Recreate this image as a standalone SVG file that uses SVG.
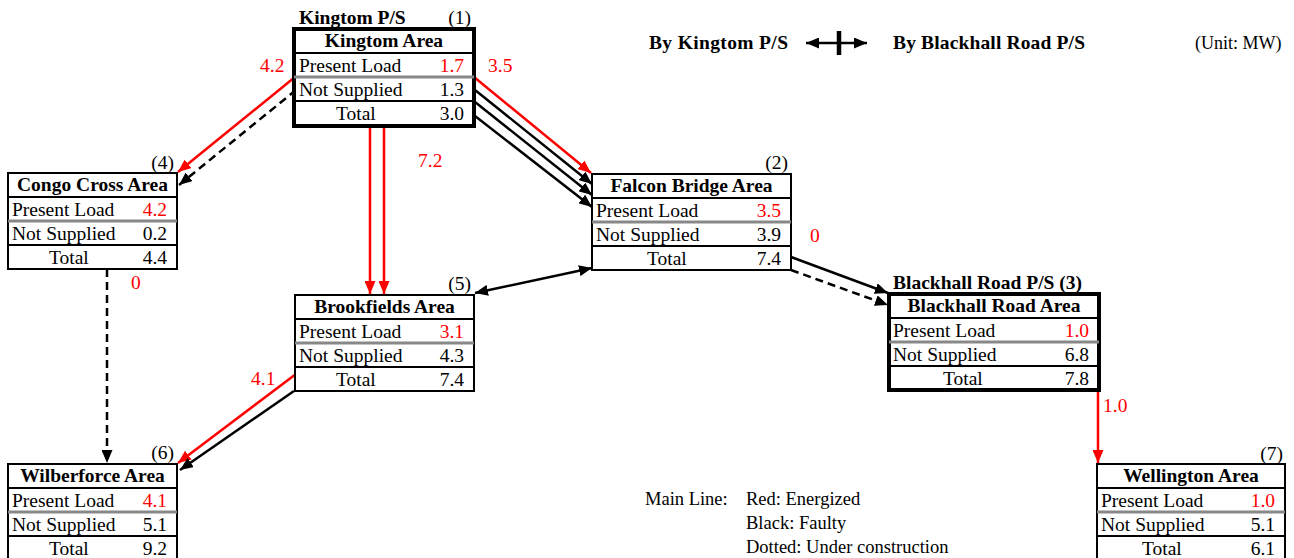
<svg xmlns="http://www.w3.org/2000/svg" width="1294" height="558" viewBox="0 0 1294 558" font-family="'Liberation Serif', 'Times New Roman', Times, serif">
<style>
text{font-family:'Liberation Serif','Times New Roman',Times,serif;font-size:19.5px;fill:#000}
.b{font-weight:bold}
.r{fill:#ff0000}
.e{text-anchor:end}
.m{text-anchor:middle}
.lg{font-size:18.5px}
.box{fill:#fff;stroke:#000;stroke-width:2}
.thick{stroke-width:4}
.dv{stroke:#000;stroke-width:2}
.gr{stroke:#888;stroke-width:3}
.ln{fill:none;stroke:#000;stroke-width:2.5}
.red{fill:none;stroke:#ff0000;stroke-width:2.5}
.dash{stroke-dasharray:8 5}
</style>
<defs>
<marker id="ak" viewBox="0 0 13 11" refX="13" refY="5.5" markerWidth="13" markerHeight="11" markerUnits="userSpaceOnUse" orient="auto-start-reverse"><path d="M0,0 L13,5.5 L0,11 z" fill="#000"/></marker>
<marker id="ar" viewBox="0 0 13 11" refX="13" refY="5.5" markerWidth="13" markerHeight="11" markerUnits="userSpaceOnUse" orient="auto"><path d="M0,0 L13,5.5 L0,11 z" fill="#ff0000"/></marker>
</defs>

<g id="connectors">
<path class="red" d="M295,77 L178,172" marker-end="url(#ar)"/>
<path class="ln dash" d="M296,90 L179,185" marker-end="url(#ak)"/>
<path class="red" d="M474,77 L591,173" marker-end="url(#ar)"/>
<path class="ln" d="M475,90 L592,184" marker-end="url(#ak)"/>
<path class="ln" d="M475,102 L592,195" marker-end="url(#ak)"/>
<path class="ln" d="M475,116 L592,207" marker-end="url(#ak)"/>
<path class="red" d="M370,127 L370,294" marker-end="url(#ar)"/>
<path class="red" d="M384,127 L384,294" marker-end="url(#ar)"/>
<path class="ln dash" d="M107,269 L107,463" marker-end="url(#ak)"/>
<path class="red" d="M296,374 L178,463" marker-end="url(#ar)"/>
<path class="ln" d="M294,391 L180,470" marker-end="url(#ak)"/>
<path class="ln" d="M475,293 L592,268" marker-start="url(#ak)" marker-end="url(#ak)"/>
<path class="ln" d="M791,257 L888,293" marker-end="url(#ak)"/>
<path class="ln dash" d="M791,270 L888,305" marker-end="url(#ak)"/>
<path class="red" d="M1098,391 L1098,463" marker-end="url(#ar)"/>
<text class="r" x="260" y="72">4.2</text>
<text class="r" x="488" y="72">3.5</text>
<text class="r" x="418" y="167">7.2</text>
<text class="r" x="131" y="289">0</text>
<text class="r" x="810" y="242">0</text>
<text class="r" x="251" y="385">4.1</text>
<text class="r" x="1103" y="412">1.0</text>
</g>

<g id="kingtom">
<text class="b" x="299" y="24">Kingtom P/S</text>
<text class="e" x="471" y="24">(1)</text>
<rect class="box thick" x="294" y="29" width="180" height="97"/>
<line class="dv" x1="294" y1="53" x2="474" y2="53"/>
<line class="gr" x1="294" y1="77" x2="474" y2="77"/>
<line class="dv" x1="294" y1="101" x2="474" y2="101"/>
<text class="b m" x="384" y="47">Kingtom Area</text>
<text x="299" y="72">Present Load</text><text class="r e" x="464" y="72">1.7</text>
<text x="299" y="96">Not Supplied</text><text class="e" x="464" y="96">1.3</text>
<text x="336" y="120">Total</text><text class="e" x="464" y="120">3.0</text>
</g>

<g id="congo">
<text class="e" x="174" y="169">(4)</text>
<rect class="box" x="8" y="173" width="169" height="96"/>
<line class="dv" x1="8" y1="197" x2="177" y2="197"/>
<line class="gr" x1="8" y1="221" x2="177" y2="221"/>
<line class="dv" x1="8" y1="245" x2="177" y2="245"/>
<text class="b m" x="92.5" y="191">Congo Cross Area</text>
<text x="12" y="216">Present Load</text><text class="r e" x="167" y="216">4.2</text>
<text x="12" y="240">Not Supplied</text><text class="e" x="167" y="240">0.2</text>
<text x="49" y="264">Total</text><text class="e" x="167" y="264">4.4</text>
</g>

<g id="falcon">
<text class="e" x="788" y="169">(2)</text>
<rect class="box" x="592" y="174" width="199" height="96"/>
<line class="dv" x1="592" y1="198" x2="791" y2="198"/>
<line class="gr" x1="592" y1="222" x2="791" y2="222"/>
<line class="dv" x1="592" y1="246" x2="791" y2="246"/>
<text class="b m" x="691.5" y="192">Falcon Bridge Area</text>
<text x="596" y="217">Present Load</text><text class="r e" x="781" y="217">3.5</text>
<text x="596" y="241">Not Supplied</text><text class="e" x="781" y="241">3.9</text>
<text x="647" y="265">Total</text><text class="e" x="781" y="265">7.4</text>
</g>

<g id="brookfields">
<text class="e" x="471" y="290">(5)</text>
<rect class="box" x="295" y="295" width="179" height="96"/>
<line class="dv" x1="295" y1="319" x2="474" y2="319"/>
<line class="gr" x1="295" y1="343" x2="474" y2="343"/>
<line class="dv" x1="295" y1="367" x2="474" y2="367"/>
<text class="b m" x="384.5" y="313">Brookfields Area</text>
<text x="299" y="338">Present Load</text><text class="r e" x="464" y="338">3.1</text>
<text x="299" y="362">Not Supplied</text><text class="e" x="464" y="362">4.3</text>
<text x="336" y="386">Total</text><text class="e" x="464" y="386">7.4</text>
</g>

<g id="blackhall">
<text class="b" x="893" y="289">Blackhall Road P/S (3)</text>
<rect class="box thick" x="889" y="294" width="210" height="96"/>
<line class="dv" x1="889" y1="318" x2="1099" y2="318"/>
<line class="gr" x1="889" y1="342" x2="1099" y2="342"/>
<line class="dv" x1="889" y1="366" x2="1099" y2="366"/>
<text class="b m" x="994" y="312">Blackhall Road Area</text>
<text x="893" y="337">Present Load</text><text class="r e" x="1089" y="337">1.0</text>
<text x="893" y="361">Not Supplied</text><text class="e" x="1089" y="361">6.8</text>
<text x="943" y="385">Total</text><text class="e" x="1089" y="385">7.8</text>
</g>

<g id="wilberforce">
<text class="e" x="174" y="459">(6)</text>
<rect class="box" x="8" y="464" width="169" height="100"/>
<line class="dv" x1="8" y1="488" x2="177" y2="488"/>
<line class="gr" x1="8" y1="512" x2="177" y2="512"/>
<line class="dv" x1="8" y1="536" x2="177" y2="536"/>
<text class="b m" x="92.5" y="482">Wilberforce Area</text>
<text x="12" y="507">Present Load</text><text class="r e" x="167" y="507">4.1</text>
<text x="12" y="531">Not Supplied</text><text class="e" x="167" y="531">5.1</text>
<text x="49" y="555">Total</text><text class="e" x="167" y="555">9.2</text>
</g>

<g id="wellington">
<text class="e" x="1283" y="460">(7)</text>
<rect class="box" x="1097" y="464" width="188" height="100"/>
<line class="dv" x1="1097" y1="488" x2="1285" y2="488"/>
<line class="gr" x1="1097" y1="512" x2="1285" y2="512"/>
<line class="dv" x1="1097" y1="536" x2="1285" y2="536"/>
<text class="b m" x="1191" y="482">Wellington Area</text>
<text x="1101" y="507">Present Load</text><text class="r e" x="1275" y="507">1.0</text>
<text x="1101" y="531">Not Supplied</text><text class="e" x="1275" y="531">5.1</text>
<text x="1142" y="555">Total</text><text class="e" x="1275" y="555">6.1</text>
</g>

<g id="legend">
<text class="b" x="649" y="49" textLength="139">By Kingtom P/S</text>
<path class="ln" d="M806,43 L867,43" stroke-width="3.5" marker-start="url(#ak)" marker-end="url(#ak)"/>
<line x1="839" y1="31" x2="839" y2="55" stroke="#000" stroke-width="4.5"/>
<text class="b" x="893" y="49" textLength="192">By Blackhall Road P/S</text>
<text x="1195" y="49" style="font-size:18px">(Unit: MW)</text>
<text class="lg" x="645" y="505">Main Line:</text>
<text class="lg" x="746" y="505">Red: Energized</text>
<text class="lg" x="746" y="529">Black: Faulty</text>
<text class="lg" x="746" y="553">Dotted: Under construction</text>
</g>
</svg>
